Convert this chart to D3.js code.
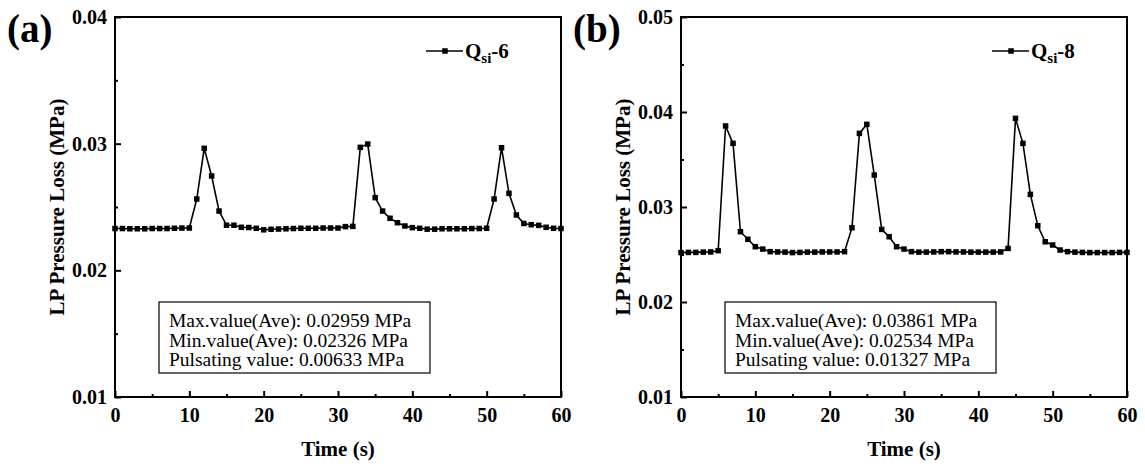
<!DOCTYPE html>
<html>
<head>
<meta charset="utf-8">
<script src="https://cdn.jsdelivr.net/npm/d3@7"></script>
<style>
  body { margin: 0; background: #fff; }
  svg { display: block; }
  text { font-family: "Liberation Serif", "Times New Roman", serif; fill: #000; }
</style>
</head>
<body>
<svg id="chart" width="1145" height="466"></svg>
<script>
// Sampling times (s)
const timeS = [0,1,2,3,4,5,6,7,8,9,10,11,12,13,14,15,16,17,18,19,20,
  21,22,23,24,25,26,27,28,29,30,31,32,33,34,35,36,37,38,39,40,
  41,42,43,44,45,46,47,48,49,50,51,52,53,54,55,56,57,58,59,60];

// LP pressure loss (MPa), case Qsi-6
const pressureA = [0.02330,0.02330,0.02328,0.02328,0.02328,0.02330,0.02330,0.02330,0.02332,0.02334,0.02334,
  0.02563,0.02963,0.02745,0.02468,0.02356,0.02356,0.02340,0.02338,0.02332,0.02320,
  0.02324,0.02326,0.02328,0.02330,0.02332,0.02332,0.02332,0.02334,0.02334,0.02334,
  0.02345,0.02347,0.02971,0.02997,0.02574,0.02468,0.02411,0.02376,0.02350,0.02337,
  0.02332,0.02325,0.02325,0.02328,0.02328,0.02328,0.02328,0.02330,0.02330,0.02332,
  0.02563,0.02968,0.02608,0.02437,0.02370,0.02360,0.02355,0.02340,0.02332,0.02330];

// LP pressure loss (MPa), case Qsi-8
const pressureB = [0.02520,0.02522,0.02522,0.02525,0.02527,0.02540,0.03853,0.03670,0.02740,0.02660,0.02582,
  0.02557,0.02530,0.02527,0.02525,0.02520,0.02522,0.02525,0.02525,0.02527,0.02527,
  0.02527,0.02530,0.02782,0.03775,0.03870,0.03336,0.02764,0.02687,0.02582,0.02557,
  0.02530,0.02525,0.02525,0.02527,0.02530,0.02530,0.02527,0.02527,0.02525,0.02525,
  0.02525,0.02525,0.02527,0.02564,0.03933,0.03670,0.03133,0.02803,0.02634,0.02600,
  0.02547,0.02530,0.02525,0.02522,0.02520,0.02520,0.02520,0.02520,0.02522,0.02522];

const xTicks = [0,10,20,30,40,50,60];
const xMinorTicks = [5,15,25,35,45,55];
const yTicksA = [0.01,0.02,0.03,0.04];
const yMinorA = [0.015,0.025,0.035];
const yTicksB = [0.01,0.02,0.03,0.04,0.05];
const yMinorB = [0.015,0.025,0.035,0.045];

const panelLabels = ["(a)", "(b)"];
const seriesSuffix = ["-6", "-8"];
const statsA = ["Max.value(Ave): 0.02959 MPa", "Min.value(Ave): 0.02326 MPa", "Pulsating value: 0.00633 MPa"];
const statsB = ["Max.value(Ave): 0.03861 MPa", "Min.value(Ave): 0.02534 MPa", "Pulsating value: 0.01327 MPa"];

const svg = d3.select("#chart");

const plotTop = 17, plotBottom = 397, plotWidth = 446;

function drawPanel(p) {
  const g = svg.append("g");
  const x = d3.scaleLinear().domain([0, 60]).range([p.left, p.left + plotWidth]);
  const y = d3.scaleLinear().domain(p.yDomain).range([plotBottom, plotTop]);

  // x axis, ticks pointing inward
  g.append("g").attr("transform", `translate(0,${plotBottom})`)
    .call(d3.axisBottom(x).tickValues(xTicks).tickFormat(d3.format("d"))
      .tickSizeInner(-6).tickSizeOuter(0).tickPadding(11));
  g.append("g").attr("transform", `translate(0,${plotBottom})`)
    .call(d3.axisBottom(x).tickValues(xMinorTicks).tickFormat("")
      .tickSizeInner(-3).tickSizeOuter(0));

  // y axis, ticks pointing inward
  g.append("g").attr("transform", `translate(${p.left},0)`)
    .call(d3.axisLeft(y).tickValues(p.yTicks).tickFormat(d3.format(".2f"))
      .tickSizeInner(-6).tickSizeOuter(0).tickPadding(8));
  g.append("g").attr("transform", `translate(${p.left},0)`)
    .call(d3.axisLeft(y).tickValues(p.yMinor).tickFormat("")
      .tickSizeInner(-3).tickSizeOuter(0));

  g.selectAll(".domain").remove();
  g.selectAll(".tick line").attr("stroke", "#000").attr("stroke-width", 2);
  g.selectAll(".tick text")
    .style("font-size", "20px").style("font-weight", "bold")
    .style("font-family", "'Liberation Serif','Times New Roman',serif");

  // frame
  g.append("rect")
    .attr("x", p.left).attr("y", plotTop)
    .attr("width", plotWidth).attr("height", plotBottom - plotTop)
    .attr("fill", "none").attr("stroke", "#000").attr("stroke-width", 2);

  // series line and square markers
  const pts = timeS.map((t, i) => [t, p.values[i]]);
  g.append("path").datum(pts)
    .attr("fill", "none").attr("stroke", "#000").attr("stroke-width", 1.6)
    .attr("d", d3.line().x(d => x(d[0])).y(d => y(d[1])));
  g.selectAll(".mk").data(pts).enter().append("rect")
    .attr("x", d => x(d[0]) - 2.75).attr("y", d => y(d[1]) - 2.75)
    .attr("width", 5.5).attr("height", 5.5).attr("fill", "#000");

  // axis titles
  g.append("text")
    .attr("transform", `translate(${p.left - 51},${(plotTop + plotBottom) / 2}) rotate(-90)`)
    .attr("text-anchor", "middle")
    .style("font-size", "21px").style("font-weight", "bold")
    .text("LP Pressure Loss (MPa)");
  g.append("text")
    .attr("x", p.left + plotWidth / 2).attr("y", 456)
    .attr("text-anchor", "middle")
    .style("font-size", "21px").style("font-weight", "bold")
    .text("Time (s)");

  // panel letter
  g.append("text")
    .attr("x", p.left - 108).attr("y", 42)
    .style("font-size", "39px").style("font-weight", "bold")
    .text(p.label);

  // legend
  const right = p.left + plotWidth;
  const ly = 51;
  g.append("line")
    .attr("x1", right - 135).attr("x2", right - 98)
    .attr("y1", ly).attr("y2", ly)
    .attr("stroke", "#000").attr("stroke-width", 1.6);
  g.append("rect")
    .attr("x", (right - 116) - 2.75).attr("y", ly - 2.75)
    .attr("width", 5.5).attr("height", 5.5).attr("fill", "#000");
  const lt = g.append("text")
    .attr("x", right - 96).attr("y", ly + 7)
    .style("font-size", "21px").style("font-weight", "bold");
  lt.append("tspan").text("Q");
  lt.append("tspan").attr("dy", 5).style("font-size", "15px").text("si");
  lt.append("tspan").attr("dy", -5).text(p.suffix);

  // statistics box
  const bx = p.left + 44, by = 302;
  g.append("rect")
    .attr("x", bx).attr("y", by).attr("width", 271).attr("height", 71)
    .attr("fill", "#fff").attr("stroke", "#000").attr("stroke-width", 1.2);
  g.selectAll(".st").data(p.stats).enter().append("text")
    .attr("x", bx + 10).attr("y", (d, i) => by + 25 + i * 19.6)
    .style("font-size", "19.5px")
    .text(d => d);
}

drawPanel({ left: 115, yDomain: [0.01, 0.04], yTicks: yTicksA, yMinor: yMinorA,
  values: pressureA, label: panelLabels[0], suffix: seriesSuffix[0], stats: statsA });
drawPanel({ left: 681, yDomain: [0.01, 0.05], yTicks: yTicksB, yMinor: yMinorB,
  values: pressureB, label: panelLabels[1], suffix: seriesSuffix[1], stats: statsB });
</script>
</body>
</html>
